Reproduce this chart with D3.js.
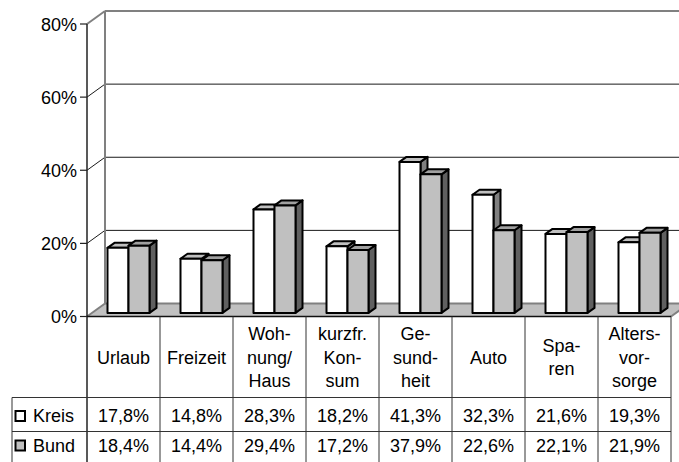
<!DOCTYPE html>
<html>
<head>
<meta charset="utf-8">
<script src="https://cdn.jsdelivr.net/npm/d3@7"></script>
<style>
  html, body { margin: 0; padding: 0; background: #fff; }
  svg { display: block; }
  text { font-family: "Liberation Sans", Arial, sans-serif; fill: #000; }
</style>
</head>
<body>
<svg id="chart" width="679" height="462"></svg>
<script>
// ---------- data ----------
const categories = ["Urlaub", "Freizeit", "Wohnung/Haus", "kurzfr. Konsum", "Gesundheit", "Auto", "Sparen", "Altersvorsorge"];
const categoryLines = [["Urlaub"], ["Freizeit"], ["Woh-", "nung/", "Haus"], ["kurzfr.", "Kon-", "sum"], ["Ge-", "sund-", "heit"], ["Auto"], ["Spa-", "ren"], ["Alters-", "vor-", "sorge"]];
const seriesNames = ["Kreis", "Bund"];
const kreisValues = [17.8, 14.8, 28.3, 18.2, 41.3, 32.3, 21.6, 19.3];
const bundValues = [18.4, 14.4, 29.4, 17.2, 37.9, 22.6, 22.1, 21.9];
const yTicks = [0, 20, 40, 60, 80];

// ---------- layout ----------
const svg = d3.select("#chart");
const plotLeft = 87, plotRight = 671;
const yZero = 316.5, yMaxPx = 24;
const DX = 18, DY = -13;          // depth of the 3D box
const BX = 5, BY = -3.6;          // position of bar front plane inside depth
const PX = 7, PY = -5;            // bar depth
const tableRow1 = 397.5, tableRow2 = 431.5, tableLeft = 12, tableBottom = 470;

const x = d3.scaleBand().domain(categories).range([plotLeft, plotRight]);
const y = d3.scaleLinear().domain([0, 80]).range([yZero, yMaxPx]);
const barW = 21;
const xSeries = d3.scaleBand().domain(seriesNames).range([-barW, barW]);

const fills = {
  Kreis: { front: "#ffffff", top: "#c0c0c0", side: "#808080" },
  Bund:  { front: "#c0c0c0", top: "#a0a0a0", side: "#606060" }
};
const seriesData = { Kreis: kreisValues, Bund: bundValues };

// ---------- walls & floor ----------
const wallGray = "#808080";
// left wall
svg.append("polygon")
  .attr("points", [[plotLeft, y(80)], [plotLeft + DX, y(80) + DY], [plotLeft + DX, yZero + DY], [plotLeft, yZero]].join(" "))
  .attr("fill", "#fff");
// floor
svg.append("polygon")
  .attr("points", [[plotLeft, yZero], [plotLeft + DX, yZero + DY], [plotRight + DX, yZero + DY], [plotRight, yZero]].join(" "))
  .attr("fill", "#c0c0c0");

// gridlines (back wall + left wall diagonals)
const gridVals = yTicks.filter(v => v > 0 && v < 80);
svg.selectAll("line.gridBack").data(gridVals).enter().append("line")
  .attr("x1", plotLeft + DX).attr("x2", plotRight + DX)
  .attr("y1", d => y(d) + DY).attr("y2", d => y(d) + DY)
  .attr("stroke", "#1a1a1a").attr("stroke-width", 1);
svg.selectAll("line.gridSide").data(gridVals).enter().append("line")
  .attr("x1", plotLeft).attr("x2", plotLeft + DX)
  .attr("y1", d => y(d)).attr("y2", d => y(d) + DY)
  .attr("stroke", "#1a1a1a").attr("stroke-width", 1);

// wall borders (gray)
const borders = [
  [[plotLeft, y(80)], [plotLeft + DX, y(80) + DY]],
  [[plotLeft + DX, y(80) + DY], [plotRight + DX, y(80) + DY]],
  [[plotLeft + DX, y(80) + DY], [plotLeft + DX, yZero + DY]],
  [[plotLeft + DX, yZero + DY], [plotRight + DX, yZero + DY]],
  [[plotLeft, yZero], [plotLeft + DX, yZero + DY]],
  [[plotRight, yZero], [plotRight + DX, yZero + DY]]
];
svg.selectAll("line.border").data(borders).enter().append("line")
  .attr("x1", d => d[0][0]).attr("y1", d => d[0][1])
  .attr("x2", d => d[1][0]).attr("y2", d => d[1][1])
  .attr("stroke", wallGray).attr("stroke-width", 2);

// ---------- bars ----------
const barsG = svg.append("g");
categories.forEach((cat, i) => {
  seriesNames.forEach(s => {
    const v = seriesData[s][i];
    const cx = x(cat) + x.bandwidth() / 2 + BX;
    const x0 = cx + xSeries(s), x1 = x0 + xSeries.bandwidth();
    const yt = y(v) + BY, yb = yZero + BY;
    const g = barsG.append("g");
    const c = fills[s];
    g.append("polygon")
      .attr("points", [[x1, yt], [x1 + PX, yt + PY], [x1 + PX, yb + PY], [x1, yb]].join(" "))
      .attr("fill", c.side).attr("stroke", "#000").attr("stroke-width", 2).attr("stroke-linejoin", "round");
    g.append("polygon")
      .attr("points", [[x0, yt], [x1, yt], [x1 + PX, yt + PY], [x0 + PX, yt + PY]].join(" "))
      .attr("fill", c.top).attr("stroke", "#000").attr("stroke-width", 2).attr("stroke-linejoin", "round");
    g.append("rect")
      .attr("x", x0).attr("y", yt).attr("width", x1 - x0).attr("height", yb - yt)
      .attr("fill", c.front).attr("stroke", "#000").attr("stroke-width", 2).attr("stroke-linejoin", "round");
  });
});

// ---------- y axis ----------
svg.append("line").attr("x1", plotLeft).attr("x2", plotLeft)
  .attr("y1", y(80)).attr("y2", tableBottom)
  .attr("stroke", "#222").attr("stroke-width", 1.5);
const yAxisG = svg.append("g");
yAxisG.selectAll("line").data(yTicks).enter().append("line")
  .attr("x1", plotLeft - 7).attr("x2", plotLeft)
  .attr("y1", d => y(d)).attr("y2", d => y(d))
  .attr("stroke", "#222").attr("stroke-width", 1.2);
yAxisG.selectAll("text").data(yTicks).enter().append("text")
  .attr("x", plotLeft - 10).attr("y", d => y(d) + 6.5)
  .attr("text-anchor", "end").attr("font-size", 18)
  .text(d => d + "%");

// ---------- data table ----------
const tbl = svg.append("g");
const lineColor = "#333";
// floor front edge / table top
tbl.append("line").attr("x1", plotLeft).attr("x2", plotRight).attr("y1", yZero).attr("y2", yZero)
  .attr("stroke", "#111").attr("stroke-width", 1.5);
[tableRow1, tableRow2].forEach(ry => {
  tbl.append("line").attr("x1", tableLeft).attr("x2", plotRight).attr("y1", ry).attr("y2", ry)
    .attr("stroke", lineColor).attr("stroke-width", 1);
});
tbl.append("line").attr("x1", tableLeft).attr("x2", tableLeft).attr("y1", tableRow1).attr("y2", tableBottom)
  .attr("stroke", lineColor).attr("stroke-width", 1);
const colEdges = categories.map(c => x(c) + x.bandwidth()).slice(0);
tbl.selectAll("line.col").data(colEdges).enter().append("line")
  .attr("x1", d => d).attr("x2", d => d).attr("y1", yZero).attr("y2", tableBottom)
  .attr("stroke", lineColor).attr("stroke-width", 1);

// category labels
const lineH = 23.5, labelMid = 363.5;
categories.forEach((cat, i) => {
  const lines = categoryLines[i];
  const n = lines.length;
  tbl.append("text")
    .attr("x", x(cat) + x.bandwidth() / 2)
    .attr("text-anchor", "middle").attr("font-size", 18)
    .selectAll("tspan").data(lines).enter().append("tspan")
    .attr("x", x(cat) + x.bandwidth() / 2)
    .attr("y", (d, k) => labelMid + (k - (n - 1) / 2) * lineH)
    .text(d => d);
});

// values
const locale = d3.formatLocale({ decimal: ",", thousands: ".", grouping: [3], currency: ["", "€"] });
const fmt = locale.format(".1f");
const rowBase = { Kreis: 422, Bund: 451.5 };
seriesNames.forEach(s => {
  tbl.selectAll("text.v" + s).data(seriesData[s]).enter().append("text")
    .attr("x", (d, i) => x(categories[i]) + x.bandwidth() / 2)
    .attr("y", rowBase[s])
    .attr("text-anchor", "middle").attr("font-size", 18)
    .text(d => fmt(d) + "%");
  // legend key
  tbl.append("rect").attr("x", 15.5).attr("y", rowBase[s] - 11).attr("width", 9.5).attr("height", 10)
    .attr("fill", fills[s].front).attr("stroke", "#000").attr("stroke-width", 2);
  tbl.append("text").attr("x", 33).attr("y", rowBase[s]).attr("font-size", 18).text(s);
});
</script>
</body>
</html>
